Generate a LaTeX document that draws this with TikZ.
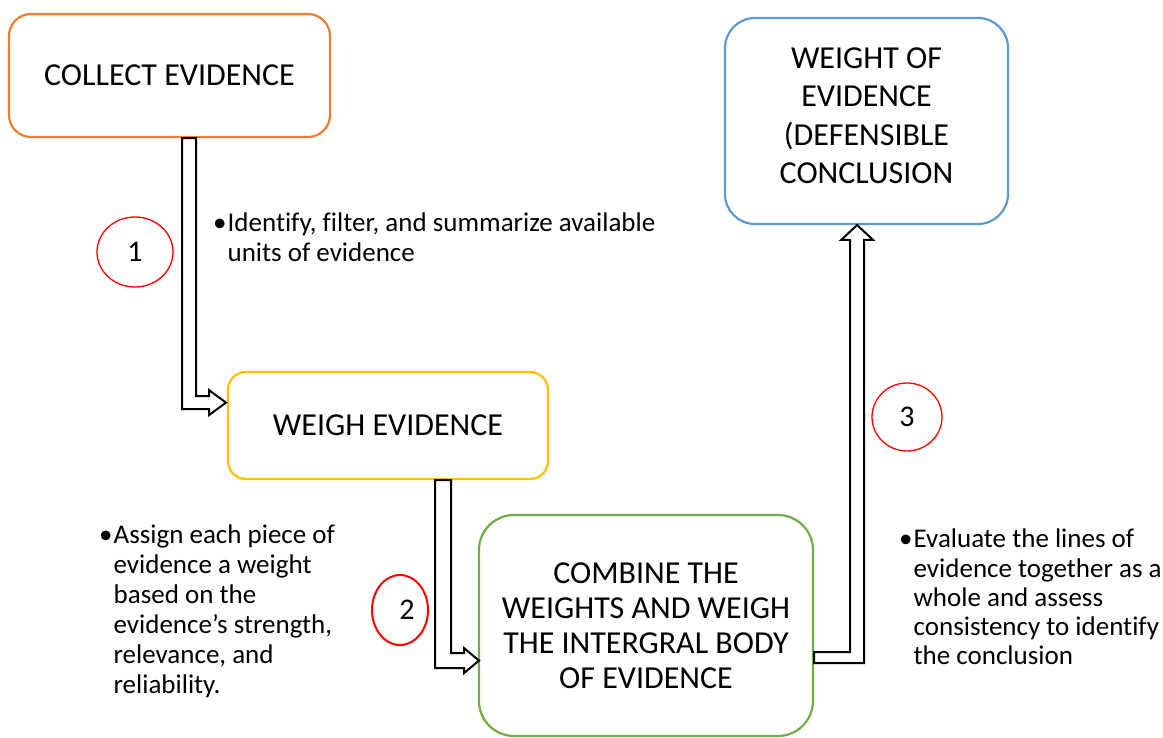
\documentclass[tikz,border=0pt]{standalone}
\usepackage{fontspec}
\setmainfont{Carlito}[Ligatures=CommonOff]
\usetikzlibrary{shapes.geometric,calc}
\definecolor{boxorange}{HTML}{ED7D31}
\definecolor{boxgold}{HTML}{FFC000}
\definecolor{boxgreen}{HTML}{70AD47}
\definecolor{boxblue}{HTML}{5B9BD5}
\newcommand{\bignote}{\fontsize{32}{38.5}\selectfont}
\newcommand{\smallnote}{\fontsize{27}{30}\selectfont}
\begin{document}
\begin{tikzpicture}[x=1pt,y=-1pt,
  stage/.style={draw, line width=2.2pt, rounded corners=#1, align=center,
    inner sep=0pt, font=\bignote},
  blockarrow/.style={draw=black, fill=white, line width=2pt, line join=miter},
  stepmark/.style={draw=red, line width=1.3pt, ellipse, inner sep=0pt,
    font=\fontsize{30}{34}\selectfont},
  notetext/.style={anchor=north west, inner sep=0pt, font=\smallnote}]
\useasboundingbox (0,0) rectangle (1163,738);

% process stages
\node[stage=22pt, draw=boxorange, minimum width=321pt, minimum height=123pt]
  (collect) at (169.5,75.5) {COLLECT EVIDENCE};
\node[stage=18pt, draw=boxgold, minimum width=320pt, minimum height=107pt]
  (weigh) at (388,425.5) {WEIGH EVIDENCE};
\node[stage=35pt, draw=boxgreen, minimum width=334pt, minimum height=221pt,
  font=\fontsize{32}{35}\selectfont]
  (combine) at (646,625.5) {COMBINE THE\\WEIGHTS AND WEIGH\\THE INTERGRAL BODY\\OF EVIDENCE};
\node[stage=30pt, draw=boxblue, minimum width=283pt, minimum height=206pt]
  (woe) at (866.5,121) {};
\node[align=center, inner sep=0pt, font=\bignote] (woetext)
  at ([yshift=5.5pt]woe.center) {WEIGHT OF\\EVIDENCE\\(DEFENSIBLE\\CONCLUSION};

% bent block arrows between the stages
\draw[blockarrow] ([xshift=12.5pt]collect.south) -- ++(0,271) -- ++(27,0)
  -- ++(0,6) -- ++(17,-12.5) -- ++(-17,-12.5) -- ++(0,6) -- ++(-13,0)
  -- ++(0,-258) -- cycle;
\draw[blockarrow] ([xshift=47pt]weigh.south) -- ++(0,188) -- ++(29,0)
  -- ++(0,5) -- ++(15,-12.5) -- ++(-15,-12.5) -- ++(0,5) -- ++(-13,0)
  -- ++(0,-173) -- cycle;
\draw[blockarrow] ([yshift=-26.5pt]combine.east) -- ++(36,0) -- ++(0,-412)
  -- ++(-9,0) -- ++(16,-15) -- ++(16,15) -- ++(-9,0) -- ++(0,423)
  -- ++(-50,0) -- cycle;

% step numbers
\node[stepmark, minimum width=76pt, minimum height=70pt] (s1) at (135,252) {1};
\node[stepmark, line width=2pt, minimum width=56pt, minimum height=70pt] (s2) at (400,610) {\hspace*{14pt}2};
\node[stepmark, minimum width=70pt, minimum height=68pt] (s3) at (907,417) {3};

% step descriptions
\node[notetext] (n1) at (213,210) {\begin{tabular}{@{}l@{\hspace{1pt}}l@{}}
  •&Identify, filter, and summarize available\\
   &units of evidence\end{tabular}};
\node[notetext] (n2) at (99,522) {\begin{tabular}{@{}l@{\hspace{1pt}}l@{}}
  •&Assign each piece of\\
   &evidence a weight\\
   &based on the\\
   &evidence’s strength,\\
   &relevance, and\\
   &reliability.\end{tabular}};
\node[notetext, font=\fontsize{27}{29.3}\selectfont] (n3) at (899,527) {\begin{tabular}{@{}l@{\hspace{1pt}}l@{}}
  •&Evaluate the lines of\\
   &evidence together as a\\
   &whole and assess\\
   &consistency to identify\\
   &the conclusion\end{tabular}};
\end{tikzpicture}
\end{document}
